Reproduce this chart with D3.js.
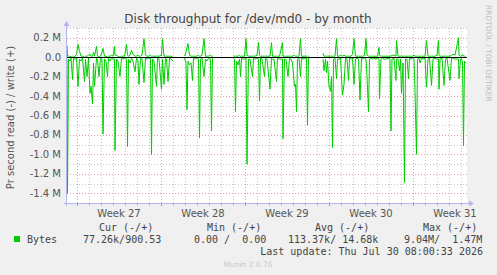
<!DOCTYPE html>
<html><head><meta charset="utf-8">
<script src="https://cdn.jsdelivr.net/npm/d3@7"></script>
<style>
html,body{margin:0;padding:0;background:#f0f0f0;}
svg{display:block;}
</style></head>
<body>
<script>
// ---- data ----
const title = "Disk throughput for /dev/md0 - by month";
const yLabel = "Pr second read (-) / write (+)";
const weekLabels = ["Week 27", "Week 28", "Week 29", "Week 30", "Week 31"];
// hours since start of graph window (800 h shown)
const hours = [0,1,3,6,8,11,13,16,19,22,25,28,31,35,37,40,43,46,48,51,53,55,59,61,64,67,70,72,75,78,81,83,86,89,92,95,96,99,102,106,109,112,115,119,121,123,126,129,132,136,139,142,144,147,150,154,157,160,163,167,169,171,174,179,181,184,189,191,194,197,199,202,205,208,212,213,
235,238,240,242,245,248,251,253,256,259,263,265,267,270,274,277,280,283,287,289,291,292,293,
333,335,337,339,342,345,347,349,352,355,358,360,363,366,371,373,376,380,383,385,387,390,395,397,400,406,409,411,414,419,421,425,431,432,435,438,442,445,448,451,455,457,459,461,464,467,469,472,476,479,481,483,485,486,
512,514,517,519,521,524,527,529,531,533,536,539,541,544,547,551,554,557,560,563,565,568,571,574,577,580,583,586,589,592,595,598,600,603,605,608,611,614,618,621,624,625,628,631,634,638,642,646,648,650,654,658,659,662,665,667,669,672,675,677,680,683,685,688,691,694,696,699,701,704,706,709,712,716,719,722,725,729,732,736,740,743,744,746,750,754,757,760,766,769,772,776,783,784,787,789,791,793,795,797];
// write bytes/s (millions)
const writeM = [.12,.01,.01,.01,.00,.01,.00,.01,.03,.13,.06,.01,.01,.00,.01,.01,.02,.03,.01,.01,.05,.01,.11,.01,.00,.01,.05,.09,.01,.01,.00,.01,.01,.02,.01,.11,.02,.02,.01,.00,.01,.01,.01,.13,.02,.01,.02,.07,.03,.01,.01,.02,.01,.01,.02,.19,.02,.01,.01,.02,.01,.01,.01,.01,.01,.01,.02,.19,.01,.01,.01,.01,.01,.01,.00,null,
.01,.05,.10,.14,.02,.01,.01,.01,.01,.01,.02,.01,.01,.02,.19,.01,.01,.01,.02,.01,.01,.01,null,
.01,.01,.01,.01,.01,.02,.01,.01,.01,.01,.19,.02,.01,.01,.01,.01,.01,.02,.15,.02,.01,.01,.01,.01,.01,.01,.15,.01,.01,.01,.01,.01,.15,.01,.01,.01,.01,.01,.01,.01,.02,.01,.01,.01,.01,.19,.01,.01,.01,.01,.00,.01,.00,null,
.04,.01,.01,.01,.01,.01,.01,.01,.01,.01,.01,.19,.01,.01,.02,.01,.02,.01,.01,.01,.01,.01,.03,.19,.01,.01,.01,.01,.01,.01,.02,.19,.02,.01,.01,.01,.01,.01,.01,.01,.10,.02,.01,.01,.01,.01,.01,.01,.01,.02,.02,.01,.17,.01,.01,.01,.01,.01,.01,.01,.01,.01,.01,.01,.01,.02,.01,.01,.01,.01,.01,.01,.01,.01,.17,.01,.01,.01,.01,.01,.02,.17,.02,.01,.01,.01,.01,.01,.01,.02,.03,.02,.20,.02,.01,.01,.03,.01,.01,.01];
// read bytes/s (millions), drawn negative
const readM = [.02,1.40,.02,.04,.01,.23,.01,.02,.01,.30,.02,.04,.01,.25,.02,.20,.01,.37,.30,.48,.06,.30,.01,.02,.20,.01,.02,.79,.02,.04,.20,.01,.04,.01,.02,.02,.96,.02,.04,.20,.01,.02,.01,.02,.92,.02,.06,.01,.04,.15,.01,.04,.28,.01,.02,.26,.01,.02,.01,.01,1.00,.02,.04,.30,.01,.02,.33,.02,.28,.01,.02,.25,.01,.02,.04,null,
.01,.06,.54,.04,.08,.06,.24,.01,.02,.01,.02,.83,.02,.01,.20,.02,.04,.01,.02,.76,.01,.01,null,
.01,.02,.56,.04,.08,.02,.20,.01,.02,.02,.01,1.10,.02,.02,.20,.01,.02,.01,.02,.45,.01,.02,.20,.01,.02,.33,.01,.02,.02,.25,.01,.02,.02,.84,.02,.02,.20,.01,.02,.06,.30,.28,.56,.02,.01,.20,.01,.02,.01,.01,.70,.01,.01,null,
.02,.14,.02,.16,.04,.30,.35,.20,.93,.02,.01,.22,.02,.02,.01,.39,.28,.01,.02,.24,.01,.02,.01,.28,.02,.01,.02,.44,.01,.02,.01,.02,.20,.56,.02,.01,.02,.01,.02,.01,.02,.43,.02,.01,.02,.02,.01,.02,.76,.02,.01,.24,.02,.02,.14,.02,.37,.06,1.29,.02,.02,.22,.01,.02,.01,.02,.35,1.00,.02,.01,.06,.01,.02,.01,.31,.02,.01,.29,.02,.01,.02,.02,.33,.02,.01,.29,.02,.01,.24,.01,.01,.02,.02,.22,.02,.01,.06,.91,.04,.06];
const legendHeaders = ["Cur (-/+)", "Min (-/+)", "Avg (-/+)", "Max (-/+)"];
const legendValues = ["77.26k/900.53", "0.00 /  0.00", "113.37k/ 14.68k", "9.04M/  1.47M"];
const seriesName = "Bytes";
const lastUpdate = "Last update: Thu Jul 30 08:00:33 2026";
const footer = "Munin 2.0.76";
const vendor = "RRDTOOL / TOBI OETIKER";

// ---- layout ----
const W = 497, H = 275;
const L = 67, R = 467, T = 28, B = 203;
const GREEN = "#00cc00";
const svg = d3.select("body").append("svg").attr("width", W).attr("height", H);
svg.append("rect").attr("width", W).attr("height", H).attr("fill", "#f0f0f0");

const x = d3.scaleLinear().domain([0, 800]).range([L, R]);
const y = d3.scaleLinear().domain([-1.5, 0.3]).range([B, T]);

svg.append("rect").attr("x", L).attr("y", T).attr("width", R - L).attr("height", B - T).attr("fill", "#ffffff");

const g = svg.append("g").attr("shape-rendering", "crispEdges");
const minorCol = "#c8c8c8", majorCol = "#e6a0a0";
// horizontal grid
const yVals = d3.range(-15, 4).map(i => i / 10);
yVals.forEach((v, i) => {
  const isMajor = Math.round(v * 10) % 2 === 0;
  const yy = Math.round(y(v)) + 0.5;
  g.append("line").attr("x1", L).attr("x2", R).attr("y1", yy).attr("y2", yy)
    .attr("stroke", isMajor ? majorCol : minorCol).attr("stroke-dasharray", "1,2");
});
// vertical grid
const minorH = d3.range(20, 800, 24);
const majorH = d3.range(20, 800, 168);
minorH.forEach(h => {
  const isMajor = majorH.includes(h);
  const xx = Math.round(x(h)) + 0.5;
  g.append("line").attr("x1", xx).attr("x2", xx).attr("y1", T).attr("y2", B)
    .attr("stroke", isMajor ? majorCol : minorCol).attr("stroke-dasharray", "1,2");
  g.append("line").attr("x1", xx).attr("x2", xx).attr("y1", B).attr("y2", B + 3)
    .attr("stroke", isMajor ? "#e08080" : "#b8b8b8");
});

// y tick labels
const tickFont = "'DejaVu Sans', sans-serif";
yVals.filter(v => Math.round(v * 10) % 2 === 0 && v <= 0.2 + 1e-9 && v >= -1.4 - 1e-9).forEach(v => {
  const lab = Math.abs(v) < 1e-9 ? "0.0" : v.toFixed(1) + " M";
  svg.append("text").attr("x", 61).attr("y", y(v) + 3.5).attr("text-anchor", "end")
    .attr("font-family", tickFont).attr("font-size", 10).attr("fill", "#555").text(lab);
});
// x labels
weekLabels.forEach((lab, i) => {
  svg.append("text").attr("x", x(20 + 84 + 168 * i)).attr("y", 217).attr("text-anchor", "middle")
    .attr("font-family", tickFont).attr("font-size", 10).attr("fill", "#555").text(lab);
});

// data lines
const pts = hours.map((h, i) => ({h, w: writeM[i], r: readM[i]}));
const lineW = d3.line().defined(d => d.w != null).x(d => x(d.h)).y(d => y(d.w));
const lineR = d3.line().defined(d => d.r != null).x(d => x(d.h)).y(d => y(-d.r));
svg.append("path").datum(pts).attr("d", lineR).attr("fill", "none").attr("stroke", GREEN).attr("stroke-width", 1);
svg.append("path").datum(pts).attr("d", lineW).attr("fill", "none").attr("stroke", GREEN).attr("stroke-width", 1);
// zero rule
svg.append("line").attr("x1", L).attr("x2", R).attr("y1", Math.round(y(0)) + 0.5).attr("y2", Math.round(y(0)) + 0.5)
  .attr("stroke", "#000").attr("stroke-width", 1).attr("shape-rendering", "crispEdges");

// axes with arrows
const axCol = "#b4b4f0";
svg.append("line").attr("x1", L - 3).attr("x2", R + 4).attr("y1", B + 0.5).attr("y2", B + 0.5)
  .attr("stroke", axCol).attr("shape-rendering", "crispEdges");
svg.append("line").attr("x1", L - 0.5).attr("x2", L - 0.5).attr("y1", B + 3).attr("y2", T - 4)
  .attr("stroke", axCol).attr("shape-rendering", "crispEdges");
svg.append("path").attr("d", `M${R + 2},${B - 2.5}L${R + 7},${B + 0.5}L${R + 2},${B + 3.5}Z`).attr("fill", axCol);
svg.append("path").attr("d", `M${L - 3.5},${T - 2}L${L - 0.5},${T - 7}L${L + 2.5},${T - 2}Z`).attr("fill", axCol);

// title
svg.append("text").attr("x", 248).attr("y", 23).attr("text-anchor", "middle")
  .attr("font-family", tickFont).attr("font-size", 12).attr("fill", "#444").text(title);
// y label
svg.append("text").attr("transform", `translate(14,${(T + B) / 2 + 2}) rotate(-90)`).attr("text-anchor", "middle")
  .attr("font-family", tickFont).attr("font-size", 10).attr("fill", "#555").text(yLabel);
// vendor
svg.append("text").attr("transform", `translate(486,5) rotate(90)`).attr("text-anchor", "start")
  .attr("font-family", tickFont).attr("font-size", 7.5).attr("fill", "#bdbdbd").text(vendor);

// legend
const mono = "'DejaVu Sans Mono', monospace";
const hdrX = [99, 207, 315, 423];
const valX = [83, 194, 288, 404];
legendHeaders.forEach((t, i) => {
  svg.append("text").attr("x", hdrX[i]).attr("y", 231).attr("font-family", mono).attr("font-size", 10)
    .attr("fill", "#444").attr("xml:space", "preserve").style("white-space", "pre").text(t);
});
svg.append("rect").attr("x", 14).attr("y", 236).attr("width", 6).attr("height", 6).attr("fill", GREEN);
svg.append("text").attr("x", 27).attr("y", 243).attr("font-family", mono).attr("font-size", 10).attr("fill", "#444").text(seriesName);
legendValues.forEach((t, i) => {
  svg.append("text").attr("x", valX[i]).attr("y", 243).attr("font-family", mono).attr("font-size", 10)
    .attr("fill", "#444").attr("xml:space", "preserve").style("white-space", "pre").text(t);
});
svg.append("text").attr("x", 483).attr("y", 255).attr("text-anchor", "end").attr("font-family", mono)
  .attr("font-size", 10).attr("fill", "#444").style("white-space", "pre").text(lastUpdate);
svg.append("text").attr("x", 248).attr("y", 267).attr("text-anchor", "middle").attr("font-family", tickFont)
  .attr("font-size", 7.5).attr("fill", "#c8c8c8").text(footer);
</script>
</body></html>
